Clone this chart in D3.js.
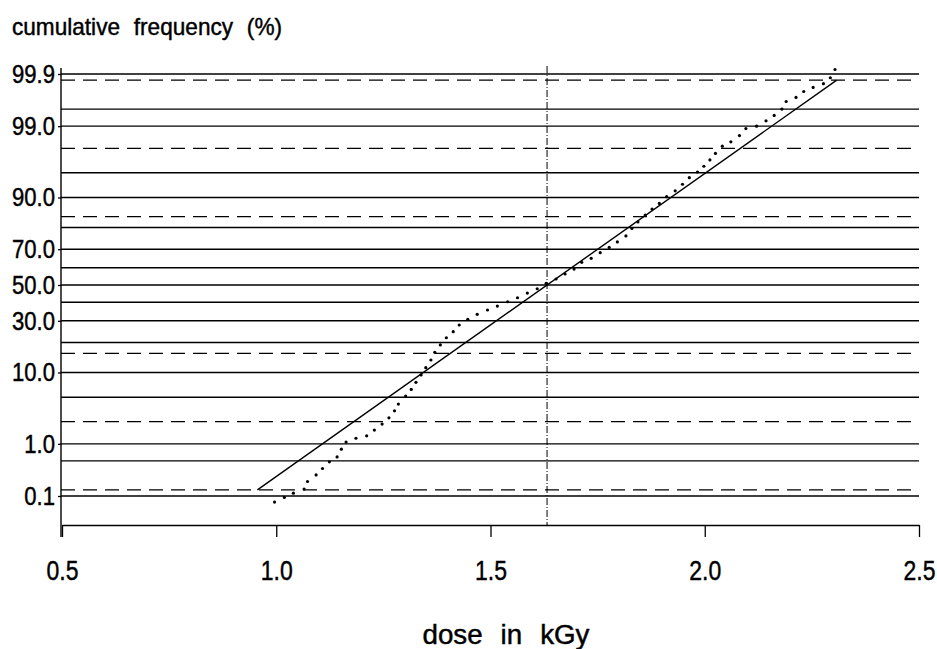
<!DOCTYPE html>
<html>
<head>
<meta charset="utf-8">
<script src="https://cdn.jsdelivr.net/npm/d3@7/dist/d3.min.js"></script>
<style>
  body { margin: 0; background: #fff; }
  svg text { font-family: "Liberation Sans", Arial, sans-serif; fill: #000; stroke: #000; stroke-width: 0.45px; }
</style>
</head>
<body>
<div id="chart"></div>
<script>
let doses = [
  0.996, 1.019, 1.040, 1.065, 1.073, 1.093, 1.108, 1.124, 1.142, 1.152,
  1.163, 1.186, 1.211, 1.229, 1.247, 1.263, 1.276, 1.285, 1.302, 1.315,
  1.326, 1.338, 1.349, 1.361, 1.370, 1.383, 1.397, 1.413, 1.427, 1.447,
  1.469, 1.493, 1.516, 1.540, 1.563, 1.586, 1.609, 1.630, 1.653, 1.674,
  1.695, 1.713, 1.735, 1.756, 1.777, 1.796, 1.816, 1.830, 1.844, 1.861,
  1.877, 1.894, 1.911, 1.931, 1.948, 1.964, 1.983, 1.998, 2.012, 2.025,
  2.041, 2.061, 2.081, 2.096, 2.121, 2.143, 2.162, 2.180, 2.190, 2.213,
  2.231, 2.253, 2.277, 2.293, 2.304
];
let cumPercent = [
  0.074, 0.093, 0.115, 0.14, 0.20, 0.27, 0.36, 0.48, 0.59, 0.81,
  1.07, 1.24, 1.36, 1.68, 2.08, 2.59, 3.27, 4.06, 5.2, 6.3,
  7.7, 9.4, 11.3, 13.6, 16.2, 19.0, 22.0, 24.7, 27.9, 30.8,
  33.4, 35.7, 37.9, 40.3, 42.6, 45.3, 47.8, 51.0, 53.5, 56.4,
  59.2, 63.0, 65.2, 68.2, 70.9, 73.6, 76.4, 79.6, 82.2, 84.7,
  86.7, 88.4, 90.2, 91.6, 93.0, 94.2, 95.1, 95.9, 96.65, 97.3,
  97.9, 98.2, 98.57, 98.9, 99.0, 99.19, 99.35, 99.50, 99.64, 99.70,
  99.77, 99.81, 99.84, 99.88, 99.92
];

// fitted normal distribution, drawn between -3 and +3 sigma
let fitDose = [0.956, 2.308];
let fitPercent = [0.135, 99.865];
let meanDose = 1.632;

let xTicks = [0.5, 1.0, 1.5, 2.0, 2.5];
let yLabels = [0.1, 1, 10, 30, 50, 70, 90, 99, 99.9];
let solidLevels = [0.1, 0.5, 1, 5, 10, 20, 30, 40, 50, 60, 70, 80, 90, 95, 99, 99.5, 99.9];
let sigmaLevels = [0.135, 2.275, 15.866, 84.134, 97.725, 99.865];

// inverse of the standard normal cdf (Acklam), p in percent
function probit(pct) {
  let p = pct / 100;
  let a = [-3.969683028665376e+01, 2.209460984245205e+02, -2.759285104469687e+02, 1.383577518672690e+02, -3.066479806614716e+01, 2.506628277459239e+00];
  let b = [-5.447609879822406e+01, 1.615858368580409e+02, -1.556989798598866e+02, 6.680131188771972e+01, -1.328068155288572e+01];
  let c = [-7.784894002430293e-03, -3.223964580411365e-01, -2.400758277161838e+00, -2.549732539343734e+00, 4.374664141464968e+00, 2.938163982698783e+00];
  let d = [7.784695709041462e-03, 3.224671290700398e-01, 2.445134137142996e+00, 3.754408661907416e+00];
  let pLow = 0.02425, q, r;
  if (p < pLow) {
    q = Math.sqrt(-2 * Math.log(p));
    return (((((c[0]*q+c[1])*q+c[2])*q+c[3])*q+c[4])*q+c[5]) / ((((d[0]*q+d[1])*q+d[2])*q+d[3])*q+1);
  }
  if (p > 1 - pLow) {
    q = Math.sqrt(-2 * Math.log(1 - p));
    return -(((((c[0]*q+c[1])*q+c[2])*q+c[3])*q+c[4])*q+c[5]) / ((((d[0]*q+d[1])*q+d[2])*q+d[3])*q+1);
  }
  q = p - 0.5;
  r = q * q;
  return (((((a[0]*r+a[1])*r+a[2])*r+a[3])*r+a[4])*r+a[5])*q / (((((b[0]*r+b[1])*r+b[2])*r+b[3])*r+b[4])*r+1);
}

// squeeze text horizontally, the original uses a narrow typeface
function narrow(sel, factor) {
  sel.each(function () {
    let w = this.getComputedTextLength();
    d3.select(this)
      .attr('textLength', w * factor)
      .attr('lengthAdjust', 'spacingAndGlyphs');
  });
}

let width = 937, height = 649;
let plot = {left: 61, right: 919, top: 66, gridTop: 74, gridBottom: 496, axisY: 525};

let svg = d3.select('#chart').append('svg')
  .attr('width', width)
  .attr('height', height);

let x = d3.scaleLinear()
  .domain([0.5, 2.5])
  .range([plot.left + 1, plot.right]);

let y = d3.scaleLinear()
  .domain([probit(0.1), probit(99.9)])
  .range([plot.gridBottom, plot.gridTop]);

let yp = (pct) => y(probit(pct));

// horizontal grid: probability lines solid, sigma lines dashed
svg.append('g').selectAll('line.solid')
  .data(solidLevels)
  .enter()
  .append('line')
  .attr('class', 'solid')
  .attr('x1', plot.left)
  .attr('x2', plot.right)
  .attr('y1', (d) => yp(d))
  .attr('y2', (d) => yp(d))
  .attr('stroke', '#000')
  .attr('stroke-width', 1.4);

svg.append('g').selectAll('line.sigma')
  .data(sigmaLevels)
  .enter()
  .append('line')
  .attr('class', 'sigma')
  .attr('x1', plot.left)
  .attr('x2', plot.right)
  .attr('y1', (d) => yp(d))
  .attr('y2', (d) => yp(d))
  .attr('stroke', '#000')
  .attr('stroke-width', 1.3)
  .attr('stroke-dasharray', '14,8');

// mean dose marker
svg.append('line')
  .attr('x1', x(meanDose))
  .attr('x2', x(meanDose))
  .attr('y1', plot.top)
  .attr('y2', plot.axisY)
  .attr('stroke', '#000')
  .attr('stroke-width', 1)
  .attr('stroke-dasharray', '7,2,1,2');

// fitted line
svg.append('path')
  .datum(d3.zip(fitDose, fitPercent))
  .attr('fill', 'none')
  .attr('stroke', '#000')
  .attr('stroke-width', 1.4)
  .attr('d', d3.line().x((d) => x(d[0])).y((d) => yp(d[1])));

// measured points
svg.append('g').selectAll('circle')
  .data(d3.zip(doses, cumPercent))
  .enter()
  .append('circle')
  .attr('cx', (d) => x(d[0]))
  .attr('cy', (d) => yp(d[1]))
  .attr('r', 1.6)
  .attr('fill', '#000');

// axes
let xAxis = svg.append('g')
  .attr('transform', 'translate(0,' + plot.axisY + ')')
  .call(d3.axisBottom(x)
    .tickValues(xTicks)
    .tickFormat(d3.format('.1f'))
    .tickSize(12)
    .tickSizeOuter(0)
    .tickPadding(23));
xAxis.attr('font-family', null).attr('font-size', 28);
xAxis.select('.domain').attr('stroke-width', 1.4);
xAxis.selectAll('.tick line').attr('stroke-width', 1.3);
narrow(xAxis.selectAll('.tick text'), 0.82);

let yAxis = svg.append('g')
  .attr('transform', 'translate(' + plot.left + ',0)')
  .call(d3.axisLeft(y)
    .tickValues(yLabels.map(probit))
    .tickFormat((d, i) => d3.format('.1f')(yLabels[i]))
    .tickSize(3)
    .tickPadding(3));
yAxis.attr('font-family', null).attr('font-size', 26);
yAxis.select('.domain').remove();
yAxis.selectAll('.tick line').attr('stroke-width', 1.3);
narrow(yAxis.selectAll('.tick text'), 0.85);

svg.append('line')
  .attr('x1', plot.left)
  .attr('x2', plot.left)
  .attr('y1', plot.top + 2)
  .attr('y2', plot.axisY + 12)
  .attr('stroke', '#000')
  .attr('stroke-width', 1.4);

// titles
svg.append('text')
  .attr('x', 12)
  .attr('y', 35)
  .attr('font-size', 24)
  .attr('textLength', 270)
  .attr('lengthAdjust', 'spacingAndGlyphs')
  .style('word-spacing', '8px')
  .text('cumulative frequency (%)');

svg.append('text')
  .attr('x', 506)
  .attr('y', 644)
  .attr('text-anchor', 'middle')
  .attr('font-size', 27)
  .attr('textLength', 167)
  .attr('lengthAdjust', 'spacingAndGlyphs')
  .style('word-spacing', '10px')
  .text('dose in kGy');
</script>
</body>
</html>
